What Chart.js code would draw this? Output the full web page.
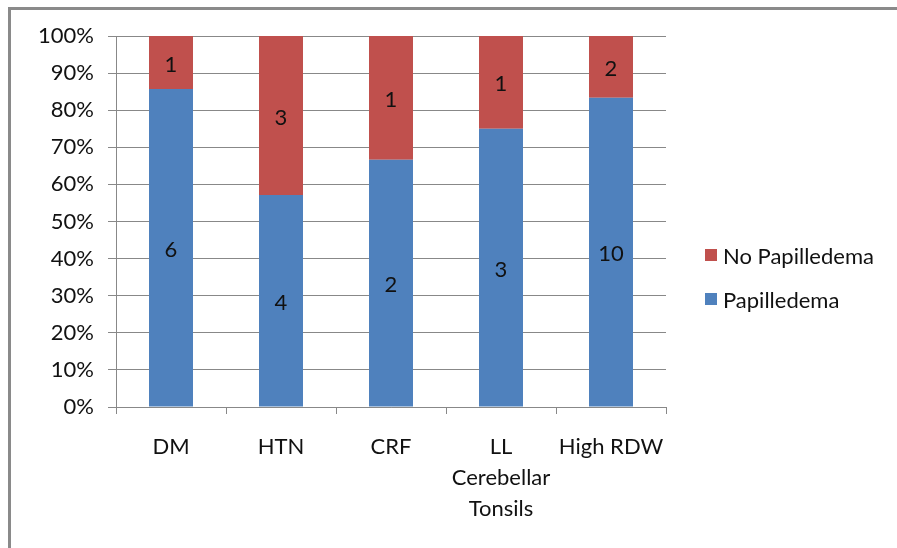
<!DOCTYPE html>
<html>
<head>
<meta charset="utf-8">
<script src="https://cdn.jsdelivr.net/npm/chart.js@4"></script>
<style>
  html, body { margin: 0; padding: 0; background: #fff; }
  #wrap { position: relative; width: 897px; height: 548px; overflow: hidden; }
  #frame {
    position: absolute; left: 8px; top: 7px; width: 900px; height: 560px;
    border-top: 3px solid #8a8a8a; border-left: 3px solid #8a8a8a;
    box-sizing: border-box;
  }
  canvas { position: absolute; left: 0; top: 0; }
  #legend { position: absolute; left: 705px; top: 240px; font-family: Lato, sans-serif; font-size: 22px; color: #111; }
  .legend-item { display: flex; align-items: center; height: 30px; margin-bottom: 14px; }
  .legend-color { width: 12px; height: 12px; margin-right: 6px; display: inline-block; }
</style>
</head>
<body>
<div id="wrap">
  <div id="frame"></div>
  <canvas id="chart" width="897" height="548"></canvas>
  <div id="legend">
    <div class="legend-item"><span class="legend-color" style="background:#c0504d"></span><span>No Papilledema</span></div>
    <div class="legend-item"><span class="legend-color" style="background:#4f81bd"></span><span>Papilledema</span></div>
  </div>
</div>
<script>
// data
const categories   = ['DM', 'HTN', 'CRF', ['LL', 'Cerebellar', 'Tonsils'], 'High RDW'];
const papilledema   = [6, 4, 2, 3, 10];
const noPapilledema = [1, 3, 1, 1, 2];
const yTicks        = [0, 10, 20, 30, 40, 50, 60, 70, 80, 90, 100];

const BLUE = '#4f81bd';
const RED  = '#c0504d';
const FONT = 'Lato, sans-serif';

// share of each group (stacked to 100%)
const totals = papilledema.map((v, i) => v + noPapilledema[i]);
const pctOf  = (arr) => arr.map((v, i) => v / totals[i] * 100);

// count labels inside segments
const countLabels = {
  id: 'countLabels',
  afterDatasetsDraw(chart) {
    const ctx = chart.ctx;
    ctx.save();
    ctx.font = '22px ' + FONT;
    ctx.fillStyle = '#111';
    ctx.textAlign = 'center';
    ctx.textBaseline = 'middle';
    chart.data.datasets.forEach((ds, di) => {
      chart.getDatasetMeta(di).data.forEach((bar, i) => {
        const { x, y, base } = bar.getProps(['x', 'y', 'base'], true);
        ctx.fillText(String(ds.counts[i]), x, (y + base) / 2 + 2);
      });
    });
    ctx.restore();
  },
};

new Chart(document.getElementById('chart'), {
  type: 'bar',
  data: {
    labels: categories,
    datasets: [
      { label: 'Papilledema',    data: pctOf(papilledema),   counts: papilledema,   backgroundColor: BLUE },
      { label: 'No Papilledema', data: pctOf(noPapilledema), counts: noPapilledema, backgroundColor: RED },
    ],
  },
  options: {
    responsive: false,
    animation: false,
    layout: { padding: { top: 36, right: 231, left: 0, bottom: 0 } },
    datasets: { bar: { categoryPercentage: 0.4, barPercentage: 1 } },
    plugins: { legend: { display: false }, tooltip: { enabled: false } },
    scales: {
      x: {
        stacked: true,
        grid: { offset: true, drawOnChartArea: false, drawTicks: true, tickLength: 7, color: '#888' },
        border: { color: '#888', width: 1 },
        ticks: { font: { family: FONT, size: 22, lineHeight: 1.4 }, color: '#111', padding: 18, maxRotation: 0, autoSkip: false },
        afterFit(scale) { scale.height = 141; },
      },
      y: {
        stacked: true,
        min: 0, max: 100,
        afterBuildTicks(scale) { scale.ticks = yTicks.map((v) => ({ value: v })); },
        grid: { color: '#888', tickLength: 8 },
        border: { color: '#888', width: 1 },
        ticks: { font: { family: FONT, size: 22 }, color: '#111', padding: 14, callback: (v) => v + '%' },
        afterFit(scale) { scale.width = 116; },
      },
    },
  },
  plugins: [countLabels],
});
</script>
</body>
</html>
